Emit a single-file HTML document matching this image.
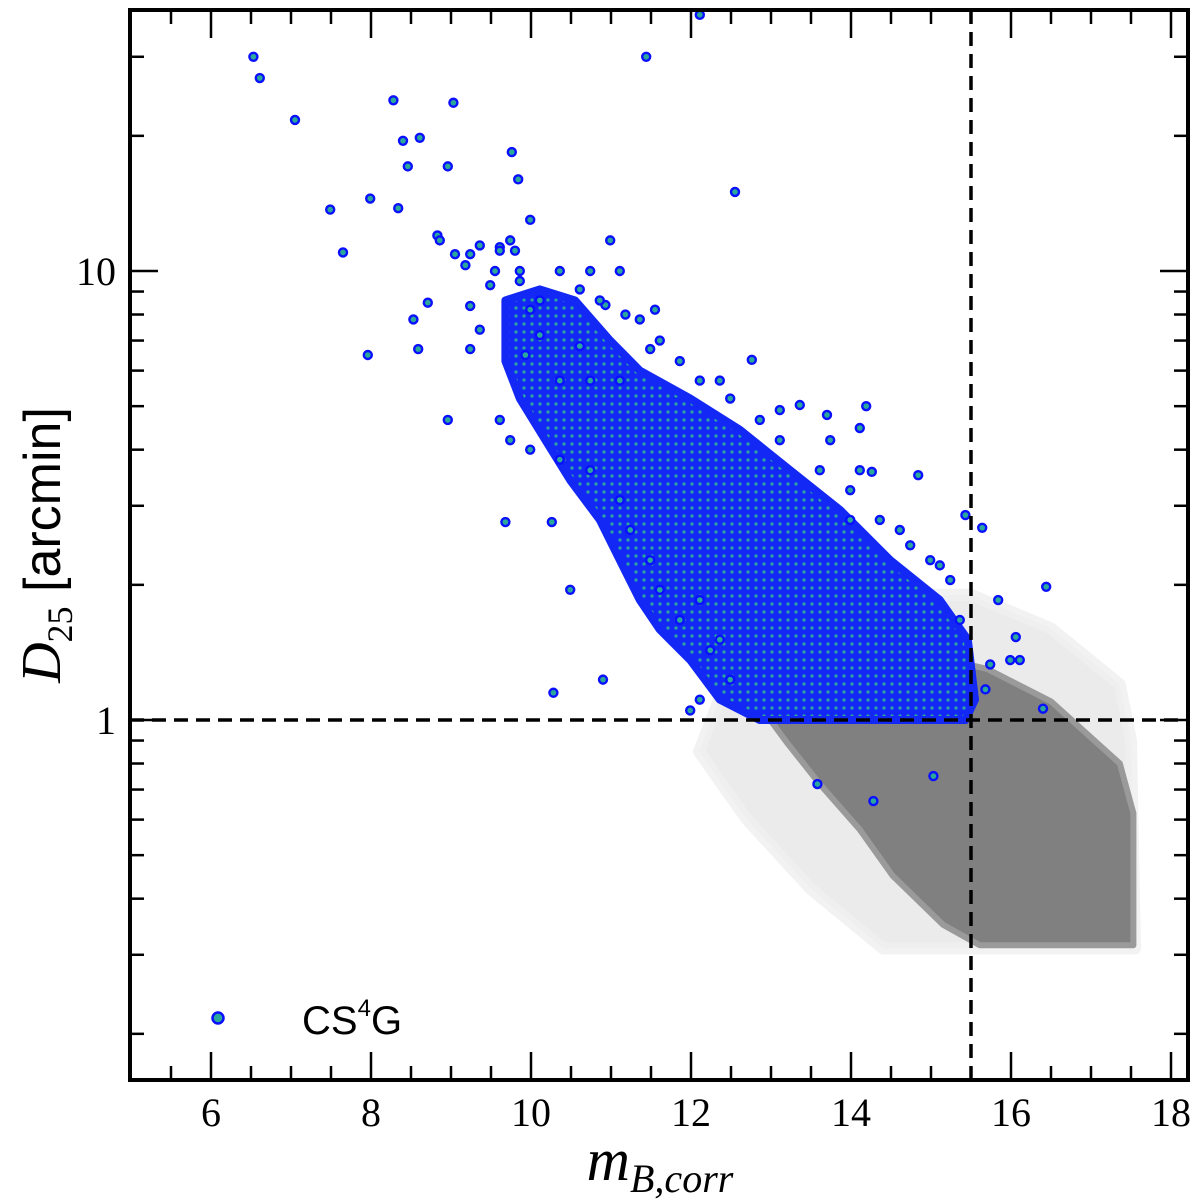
<!DOCTYPE html>
<html><head><meta charset="utf-8"><style>
html,body{margin:0;padding:0;background:#fff;width:1200px;height:1201px;overflow:hidden}
</style></head><body>
<svg id="chart" width="1200" height="1201" xmlns="http://www.w3.org/2000/svg" style="position:absolute;left:0;top:0">
<defs>
<pattern id="dots" width="8" height="8" patternUnits="userSpaceOnUse">
<rect width="8" height="8" fill="#1428f5"/>
<circle cx="4" cy="4" r="1.6" fill="#2aa89a"/>
</pattern>
</defs>
<g id="marks"></g>
<g id="axes"></g>
</svg>
<script>
// ---- data ----
const xTicks = [6, 8, 10, 12, 14, 16, 18];
const yTicks = [1, 10];
const xCut = 15.5;
const yCut = 1;
// dense gray parent population outline (m, D25)
const grayDenseM = [13.0,14.5,15.7,16.5,17.36,17.53,17.53,15.61,15.15,14.52,14.11,13.61,13.20,12.99];
const grayDenseD = [1.6,1.45,1.3,1.1,0.80,0.62,0.315,0.315,0.35,0.45,0.57,0.72,0.89,1.0];
// faint scattered parent halo outline
const grayHaloM = [12.5,14.4,15.5,16.5,17.36,17.5,17.55,14.4,13.5,12.7,12.1];
const grayHaloD = [1.3,1.9,1.9,1.6,1.2,0.9,0.31,0.31,0.42,0.6,0.85];
// dense CS4G population outline
const blueDenseM = [9.68,10.11,10.55,10.99,11.36,11.99,12.61,13.24,13.86,14.49,15.11,15.46,15.55,15.43,12.86,12.36,11.99,11.61,11.36,11.11,10.86,10.49,10.18,9.86,9.68];
const blueDenseD = [8.6,9.1,8.6,7.0,6.0,5.2,4.43,3.6,2.94,2.27,1.85,1.51,1.11,1.0,1.0,1.11,1.36,1.59,1.85,2.27,2.79,3.42,4.2,5.2,6.3];
// individual CS4G galaxies
const blueM = [6.53,6.61,7.05,7.49,7.65,7.96,7.99,8.28,8.34,8.40,8.46,8.53,8.59,8.61,8.71,8.83,8.96,8.96,9.03,9.24,9.76,9.84,9.99,9.68,10.26,10.49,10.28,10.90,12.76,12.55,12.11,11.44,13.36,13.70,14.19,14.11,14.26,14.84,13.99,15.03,13.58,14.28,16.44,16.40,15.84,16.06,15.43,15.64,16.11,15.99,
8.86,9.05,9.18,9.24,9.36,9.49,9.61,9.74,9.80,9.86,9.55,9.99,10.11,10.61,10.93,11.18,11.55,10.99,11.11,10.74,10.36,10.61,10.11,9.93,11.11,11.49,
9.36,9.24,9.61,9.74,9.99,10.36,10.74,11.11,11.24,11.49,11.61,11.86,12.11,12.24,12.49,12.11,11.99,12.36,10.86,11.36,11.61,12.11,12.49,12.86,13.11,13.61,13.99,14.36,14.74,14.99,15.24,15.36,15.68,15.74,15.11,14.61,14.11,13.74,13.11,12.36,11.86,10.74,10.36,9.86,9.61];
const blueD = [30.0,26.9,21.7,13.7,11.0,6.5,14.5,24.0,13.8,19.5,17.1,7.8,6.7,19.8,8.5,12.0,17.1,4.66,23.7,8.36,18.4,16.0,13.0,2.76,2.76,1.95,1.15,1.23,6.34,15.0,37.2,30.0,5.03,4.78,5.0,4.47,3.57,3.51,2.79,0.75,0.72,0.66,1.98,1.06,1.85,1.53,2.86,2.68,1.36,1.36,
11.7,10.9,10.3,10.9,11.4,9.3,11.3,11.7,11.1,10.0,10.0,8.2,8.6,9.1,8.4,8.0,8.2,11.7,10.0,5.7,5.7,6.8,7.2,6.5,5.7,6.7,
7.4,6.7,4.66,4.2,4.0,3.8,3.6,3.09,2.65,2.27,1.95,1.67,1.85,1.43,1.23,1.11,1.05,1.51,8.6,7.8,7.0,5.7,5.2,4.66,4.2,3.6,3.25,2.79,2.45,2.27,2.05,1.67,1.17,1.33,2.21,2.65,3.6,4.2,4.9,5.7,6.3,10.0,10.0,9.5,11.1];

// ---- scales ----
const L=130,R=1188,T=10,B=1080;
const pxPerUnit=80, x6=211;
const sx = m => x6 + (m-6)*pxPerUnit;
const sy = d => 720 - 449*Math.log10(d);
const NS="http://www.w3.org/2000/svg";
function mk(tag, parent, attrs){const e=document.createElementNS(NS,tag);for(const k in attrs)e.setAttribute(k,attrs[k]);parent.appendChild(e);return e;}
const marks=document.getElementById('marks'), axes=document.getElementById('axes');
function poly(ms, ds, fill, stroke, op, sw, name){
  const pts=ms.map((m,i)=>sx(m).toFixed(1)+','+sy(ds[i]).toFixed(1)).join(' ');
  const p=mk('polygon',marks,{points:pts,fill:fill,'fill-opacity':op,stroke:stroke,'stroke-width':sw,'stroke-linejoin':'round','stroke-opacity':op});
  
  
}
poly(grayHaloM, grayHaloD, '#e8e8e8', '#f0f0f0', 0.85, 12, 'parent-sample-halo');
poly(grayDenseM, grayDenseD, '#808080', '#9a9a9a', 1, 6, 'parent-sample-dense');
poly(blueDenseM, blueDenseD, 'url(#dots)', '#1428f5', 1, 8, 'cs4g-dense-region');
blueM.forEach((m,i)=>{
  const c=mk('circle',marks,{cx:sx(m),cy:sy(blueD[i]),r:4,fill:'#2aa89a',stroke:'#0a10ff','stroke-width':2.4});
  
  
});
const vl=mk('line',marks,{x1:sx(xCut),x2:sx(xCut),y1:T,y2:B,stroke:'#000','stroke-width':3.5,'stroke-dasharray':'14,8'});


const hl=mk('line',marks,{x1:L,x2:R,y1:sy(yCut),y2:sy(yCut),stroke:'#000','stroke-width':3.5,'stroke-dasharray':'14,8'});



// ---- axes ----
const fr=mk('rect',axes,{x:L,y:T,width:R-L,height:B-T,fill:'none',stroke:'#000','stroke-width':4});


for(let v=5;v<=18.25;v+=0.5){
  const major = Math.abs(v%2)<1e-6;
  const len = major?28:14, x=sx(v);
  if(x<=L+2||x>=R-2) continue;
  mk('line',axes,{x1:x,x2:x,y1:B,y2:B-len,stroke:'#000','stroke-width':2.5});
  mk('line',axes,{x1:x,x2:x,y1:T,y2:T+len,stroke:'#000','stroke-width':2.5});
}
xTicks.forEach(v=>{
  const t=mk('text',axes,{x:sx(v),y:1126,'text-anchor':'middle','font-family':'Liberation Serif, serif','font-size':40});
  t.textContent=v;
  
  
});
[0.1,1,10].forEach(dec=>{
  for(let k=1;k<=9;k++){
    const d=dec*k, y=sy(d);
    if(y<=T+2||y>=B-2) continue;
    const len = k===1?28:14;
    mk('line',axes,{x1:L,x2:L+len,y1:y,y2:y,stroke:'#000','stroke-width':2.5});
    mk('line',axes,{x1:R,x2:R-len,y1:y,y2:y,stroke:'#000','stroke-width':2.5});
  }
});
yTicks.forEach(v=>{
  const t=mk('text',axes,{x:116,y:sy(v)+14,'text-anchor':'end','font-family':'Liberation Serif, serif','font-size':40});
  t.textContent=v;
  
  
});
</script>
<svg style="position:absolute;left:0;top:0" width="1200" height="1201" xmlns="http://www.w3.org/2000/svg">
<text x="660" y="1180" text-anchor="middle" font-family="Liberation Serif, serif" font-style="italic" font-size="60">m<tspan font-size="40" dy="12">B,corr</tspan></text>
<g transform="translate(60,545) rotate(-90)">
<text x="0" y="0" text-anchor="middle" font-size="56"><tspan font-family="Liberation Serif, serif" font-style="italic">D</tspan><tspan font-family="Liberation Serif, serif" font-size="36" dy="12">25</tspan><tspan font-family="Liberation Sans, sans-serif" dy="-12" font-size="52"> [arcmin]</tspan></text>
</g>
<g>
<circle cx="218" cy="1018" r="5.5" fill="#2aa89a" stroke="#0a10ff" stroke-width="2.5"/>
<text x="302" y="1034" font-family="Liberation Sans, sans-serif" font-size="40">CS<tspan font-size="24" dy="-18">4</tspan><tspan dy="18">G</tspan></text>
</g>
</svg>
</body></html>
